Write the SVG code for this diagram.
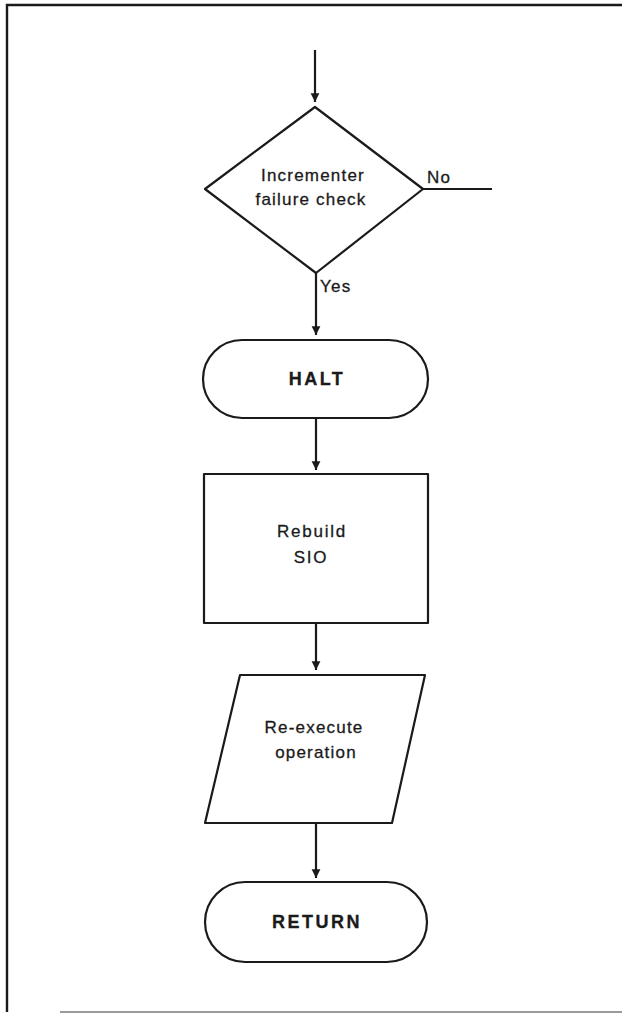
<svg xmlns="http://www.w3.org/2000/svg" width="622" height="1014" viewBox="0 0 622 1014">
  <style>
    .shape { fill: none; stroke: #1a1a1a; stroke-width: 2.2; stroke-linejoin: round; }
    .conn { fill: none; stroke: #1a1a1a; stroke-width: 2.2; }
    .label { font-family: "Liberation Sans", Arial, sans-serif; fill: #1a1a1a; stroke: #1a1a1a; stroke-width: 0.3; text-anchor: middle; }
    .body { font-size: 17px; letter-spacing: 1.2px; }
    .term { font-size: 18px; font-weight: bold; letter-spacing: 2.5px; }
    .branch { font-family: "Liberation Sans", Arial, sans-serif; fill: #1a1a1a; stroke: #1a1a1a; stroke-width: 0.3; font-size: 17px; letter-spacing: 1.2px; }
  </style>
  <defs>
    <marker id="arrow" viewBox="0 0 10 10" refX="10" refY="5" markerWidth="4" markerHeight="4.5" orient="auto" markerUnits="strokeWidth">
      <path d="M0,0 L10,5 L0,10 z" fill="#1a1a1a"/>
    </marker>
  </defs>
  <rect width="622" height="1014" fill="#ffffff"/>

  <!-- page frame -->
  <g id="frame">
    <path d="M7,1012 L7,5 L622,5" fill="none" stroke="#1a1a1a" stroke-width="2.4"/>
    <path d="M60,1012 L622,1012" fill="none" stroke="#9a9a9a" stroke-width="1.8"/>
  </g>

  <!-- connectors -->
  <g id="connectors">
    <path class="conn" d="M315,50 L315,102" marker-end="url(#arrow)"/>
    <path class="conn" d="M423,189 L492,189"/>
    <path class="conn" d="M316,273 L316,335" marker-end="url(#arrow)"/>
    <path class="conn" d="M316,418 L316,470" marker-end="url(#arrow)"/>
    <path class="conn" d="M316,623 L316,670" marker-end="url(#arrow)"/>
    <path class="conn" d="M316,823 L316,878" marker-end="url(#arrow)"/>
    <text class="branch" x="427" y="183">No</text>
    <text class="branch" x="320" y="292">Yes</text>
  </g>

  <!-- decision -->
  <g id="check">
    <path class="shape" d="M315,107 L423,189 L316,273 L205,189 Z"/>
    <text class="label body" x="313" y="181">Incrementer</text>
    <text class="label body" x="311" y="205">failure check</text>
  </g>

  <!-- terminal: halt -->
  <g id="halt">
    <rect class="shape" x="203" y="340" width="225" height="78" rx="39" ry="39"/>
    <text class="label term" x="317" y="385">HALT</text>
  </g>

  <!-- process -->
  <g id="rebuild">
    <rect class="shape" x="204" y="474" width="224" height="149"/>
    <text class="label body" x="312" y="537" style="letter-spacing:1.8px">Rebuild</text>
    <text class="label body" x="311" y="563" style="letter-spacing:1.8px">SIO</text>
  </g>

  <!-- input/output -->
  <g id="reexecute">
    <path class="shape" d="M240,675 L425,675 L392,823 L205,823 Z"/>
    <text class="label body" x="314" y="733">Re-execute</text>
    <text class="label body" x="316" y="758">operation</text>
  </g>

  <!-- terminal: return -->
  <g id="return">
    <rect class="shape" x="205" y="882" width="222" height="80" rx="40" ry="40"/>
    <text class="label term" x="317" y="928">RETURN</text>
  </g>
</svg>
